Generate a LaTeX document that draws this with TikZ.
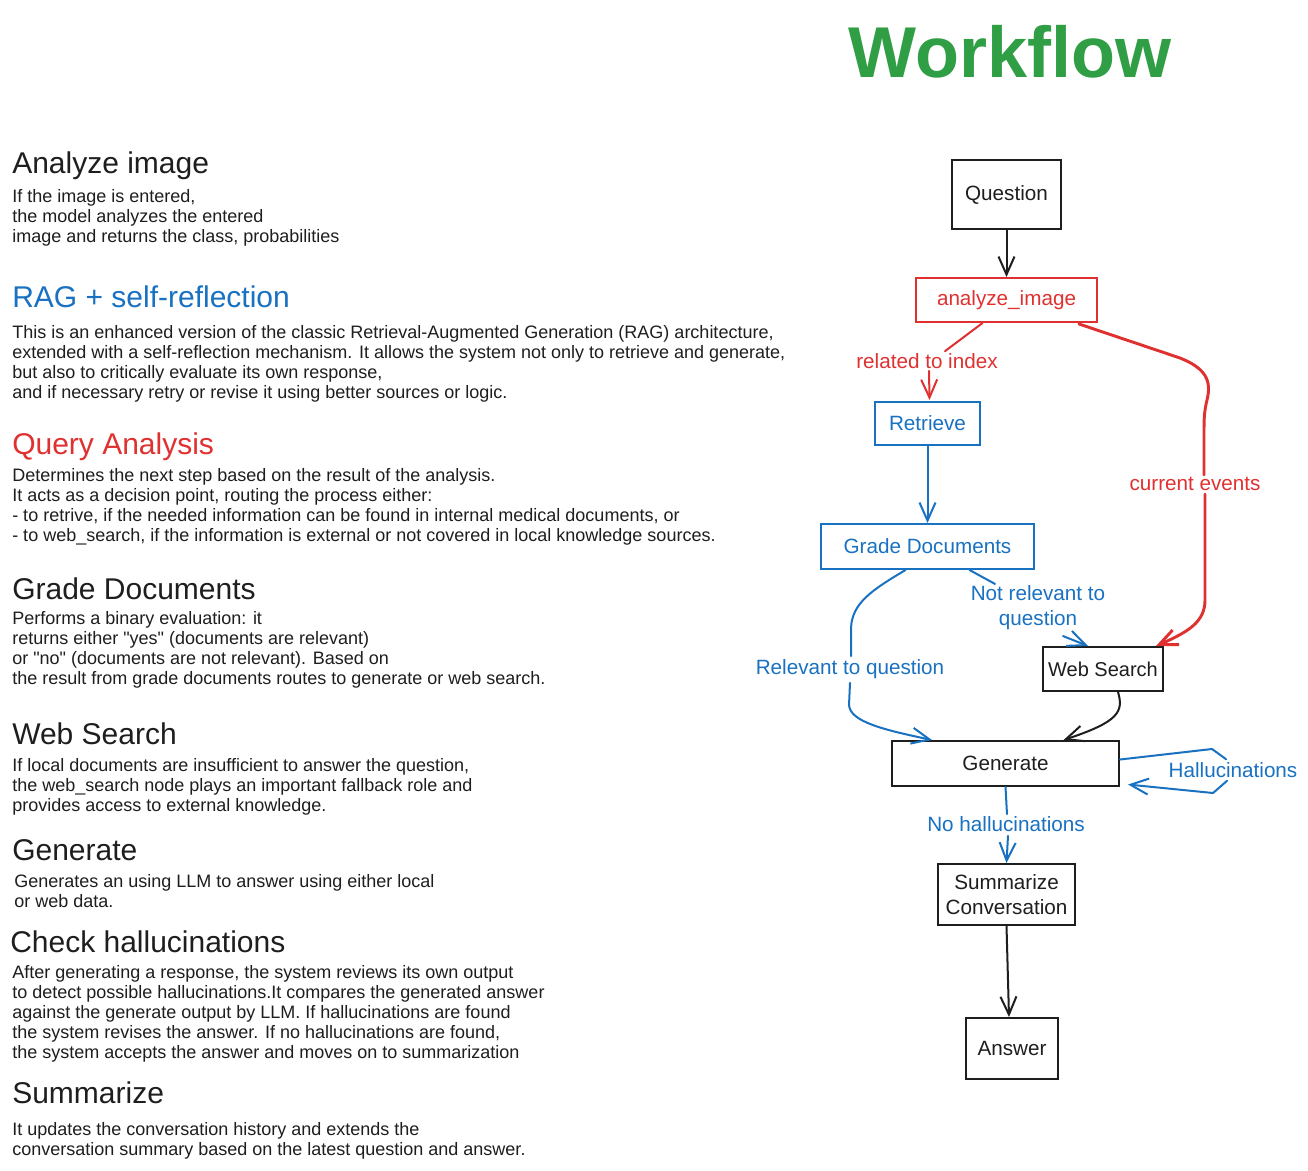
\documentclass[tikz,border=0pt]{standalone}
\usepackage{fontspec}
\setmainfont{Liberation Sans}
\usetikzlibrary{arrows.meta,calc}
\definecolor{ink}{HTML}{1E1E1E}
\definecolor{rd}{HTML}{E03131}
\definecolor{bl}{HTML}{1971C2}
\definecolor{gr}{HTML}{2F9E44}
\begin{document}
\begin{tikzpicture}[x=0.75pt,y=-0.75pt,
  box/.style={draw=ink, line width=1.5pt, inner sep=0pt, font=\fontsize{15.5}{19}\selectfont, text=ink, align=center},
  rbox/.style={box, draw=rd, text=rd},
  bbox/.style={box, draw=bl, text=bl},
  arr/.style={-{Straight Barb[length=13.5pt,width=12pt]}},
  ln/.style={line width=1.5pt, line cap=round, line join=round},
  lbl/.style={inner sep=0pt, font=\fontsize{15.5}{19}\selectfont, align=center},
  head/.style={anchor=base west, inner sep=0pt, font=\fontsize{22.5}{26}\selectfont, text=ink},
  body/.style={anchor=base west, inner sep=0pt, align=left, font=\fontsize{13.5}{15}\selectfont, text=ink},
]
\fill[white] (0,0) rectangle (1308,1170);
\useasboundingbox (0,0) rectangle (1308,1170);

% title
\node[anchor=base, inner sep=0pt, text=gr, font=\fontsize{54}{60}\selectfont\bfseries] (title) at (1010,78) {Workflow};

% left column (body nodes anchored at the baseline of their last line)
\node[head] (h1) at (12,173) {Analyze image};
\node[body] (b1) at (12,242) {If the image is entered,\\the model analyzes the entered\\image and returns the class, probabilities};
\node[head, text=bl] (h2) at (12,307) {RAG + self-reflection};
\node[body] (b2) at (12,398) {This is an enhanced version of the classic Retrieval-Augmented Generation (RAG) architecture,\\extended with a self-reflection mechanism. It allows the system not only to retrieve and generate,\\but also to critically evaluate its own response,\\and if necessary retry or revise it using better sources or logic.};
\node[head, text=rd] (h3) at (12,454) {Query Analysis};
\node[body] (b3) at (12,541) {Determines the next step based on the result of the analysis.\\It acts as a decision point, routing the process either:\\- to retrive, if the needed information can be found in internal medical documents, or\\- to web\_search, if the information is external or not covered in local knowledge sources.};
\node[head] (h4) at (12,599) {Grade Documents};
\node[body] (b4) at (12,684) {Performs a binary evaluation: it\\returns either \textquotedbl yes\textquotedbl\ (documents are relevant)\\or \textquotedbl no\textquotedbl\ (documents are not relevant). Based on\\the result from grade documents routes to generate or web search.};
\node[head] (h5) at (12,744) {Web Search};
\node[body] (b5) at (12,811) {If local documents are insufficient to answer the question,\\the web\_search node plays an important fallback role and\\provides access to external knowledge.};
\node[head] (h6) at (12,860) {Generate};
\node[body] (b6) at (14,907) {Generates an using LLM to answer using either local\\or web data.};
\node[head] (h7) at (10,952) {Check hallucinations};
\node[body] (b7) at (12,1058) {After generating a response, the system reviews its own output\\to detect possible hallucinations.It compares the generated answer\\against the generate output by LLM. If hallucinations are found\\the system revises the answer. If no hallucinations are found,\\the system accepts the answer and moves on to summarization};
\node[head] (h8) at (12,1103) {Summarize};
\node[body] (b8) at (12,1155) {It updates the conversation history and extends the\\conversation summary based on the latest question and answer.};

% flowchart nodes
\node[box, minimum width=81.75pt, minimum height=51.75pt] (q) at (1006.5,194.5) {Question};
\node[rbox, minimum width=135.75pt, minimum height=33pt] (ai) at (1006.5,300) {analyze\_image};
\node[bbox, minimum width=78.75pt, minimum height=32.25pt] (ret) at (927.5,423.5) {Retrieve};
\node[bbox, minimum width=159.75pt, minimum height=33.75pt] (gd) at (927.5,546.5) {Grade Documents};
\node[box, minimum width=90pt, minimum height=33pt, font=\fontsize{15}{19}\selectfont] (ws) at (1103,669) {Web Search};
\node[box, minimum width=170.25pt, minimum height=33.75pt] (gen) at (1005.5,763.5) {Generate};
\node[box, minimum width=102.75pt, minimum height=45.75pt] (sum) at (1006.5,894.5) {Summarize\\Conversation};
\node[box, minimum width=69pt, minimum height=45.75pt] (ans) at (1012,1048.5) {Answer};

% edge labels
\node[lbl, text=rd] (rti) at (927,361) {related to index};
\node[lbl, text=rd] (ce) at (1195,484) {current events};
\node[lbl, text=bl] (nr) at (1038,607.5) {Not relevant to\\question};
\node[lbl, text=bl] (rq) at (850,669) {Relevant to question};
\node[lbl, text=bl] (hal) at (1233,770) {Hallucinations};
\node[lbl, text=bl] (nh) at (1006,824) {No hallucinations};

% connectors
\draw[ln, ink, arr] (q.south) -- (ai.north);

\draw[ln, rd] ($(ai.south)+(-24,0)$) -- ($(rti.north)+(18,-2)$);
\draw[ln, rd, arr] ($(rti.south)+(2,2)$) -- ($(ret.north)+(2,-1)$);

\draw[ln, rd, line width=2.2pt] ($(ai.south east)+(-19,1)$) -- (1180,358)
  .. controls (1205,368) and (1212,380) .. (1207,400)
  .. controls (1204,412) and (1204,420) .. (1204,432) -- ($(ce.north)+(9,-2)$);
\draw[ln, rd, line width=2.2pt, arr] ($(ce.south)+(10,3)$) -- (1205,600)
  .. controls (1205,622) and (1188,632) .. ($(ws.north east)+(-8,0)$);

\draw[ln, bl, arr] (ret.south) -- (gd.north);

\draw[ln, bl] ($(gd.south)+(-22,0)$) .. controls (872,590) and (852,603) .. (851,628) -- ($(rq.north)+(1,-3)$);
\draw[ln, bl, arr] ($(rq.south)+(0,4)$) -- (849,705)
  .. controls (850,722) and (885,730) .. ($(gen.north west)+(41,0)$);

\draw[ln, bl] ($(gd.south)+(42,0)$) -- ($(nr.north)+(-43,-1)$);
\draw[ln, bl, arr] ($(nr.south)+(25,6)$) -- ($(ws.north)+(-15,0)$);

\draw[ln, ink, arr] ($(ws.south)+(15,0)$) .. controls (1124,712) and (1118,722) .. ($(gen.north)+(58,0)$);

\draw[ln, bl] ($(gen.east)+(0,-4)$) -- (1212,749) -- ($(hal.north)+(-7,-3)$);
\draw[ln, bl, arr] ($(hal.south)+(-6,3)$) -- (1213,793) -- ($(gen.east)+(8,21)$);

\draw[ln, bl] (gen.south) -- ($(nh.north)+(1,-2)$);
\draw[ln, bl, arr] ($(nh.south)+(2,4)$) -- (sum.north);

\draw[ln, ink, arr] (sum.south) -- ($(ans.north)+(-3,0)$);
\end{tikzpicture}
\end{document}
